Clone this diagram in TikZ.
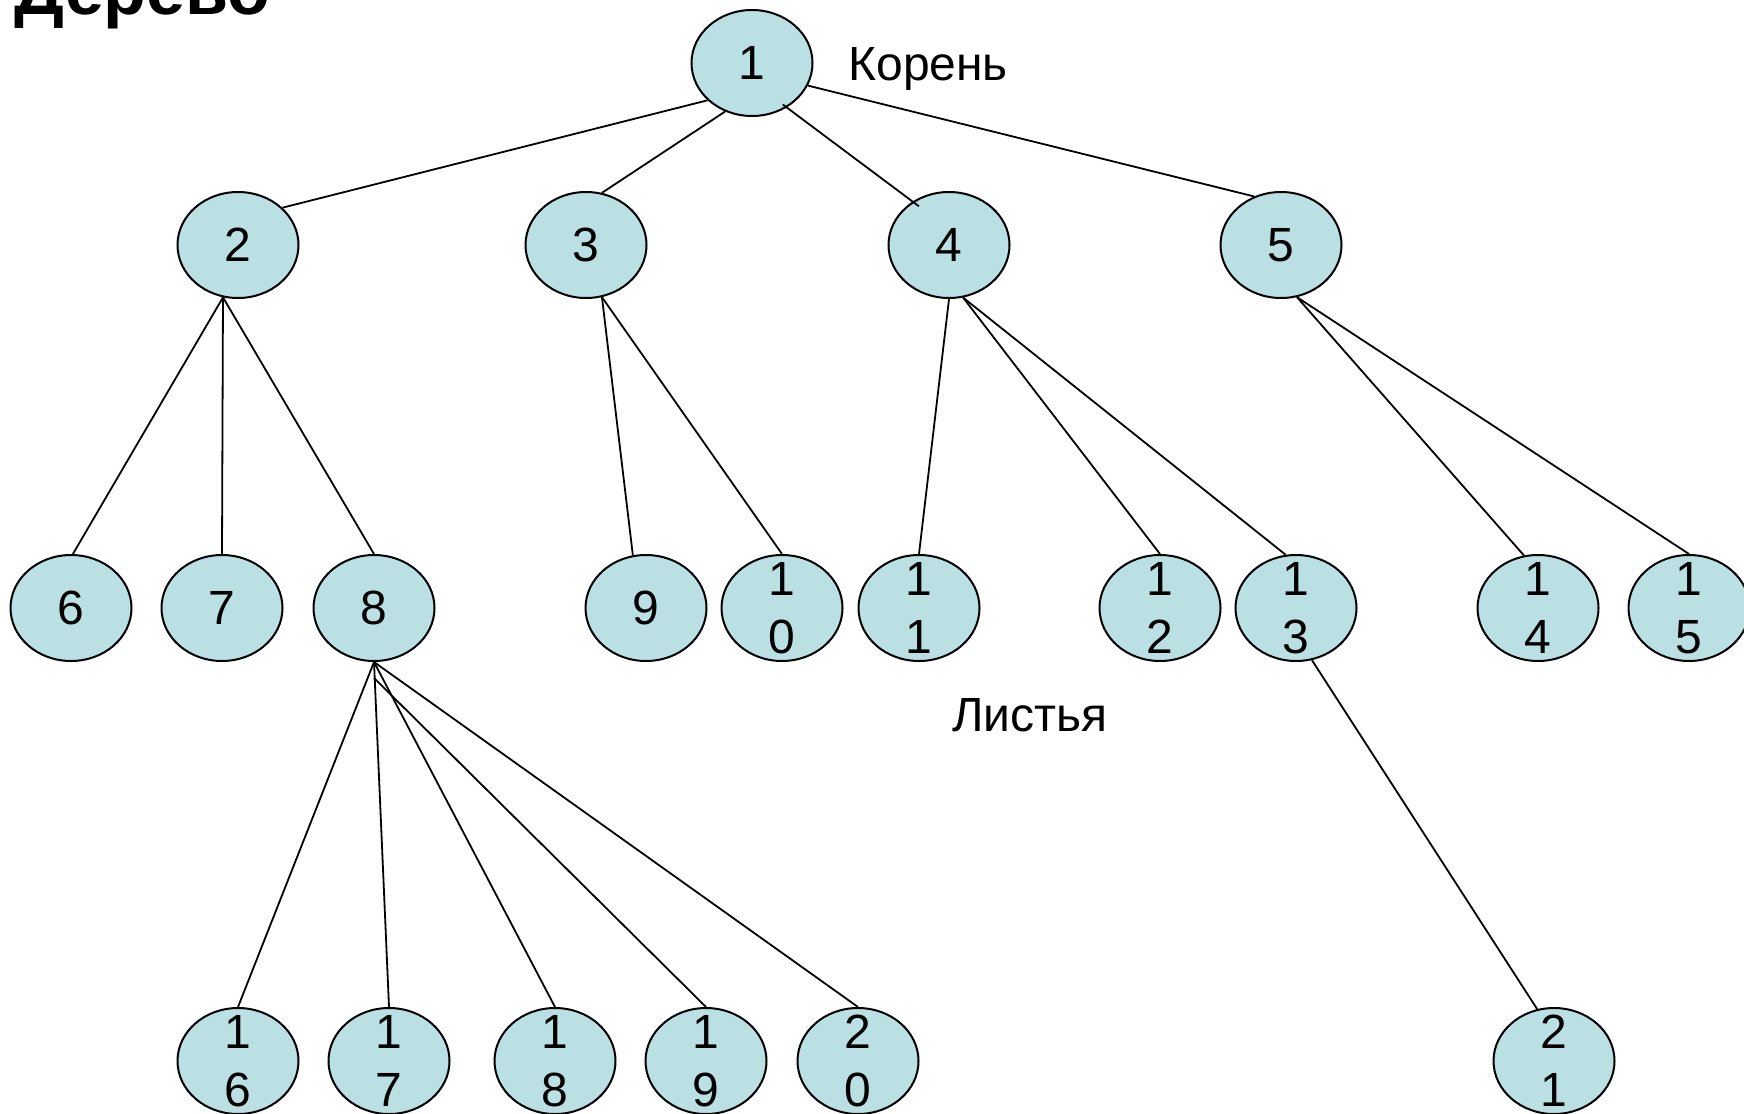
\documentclass[tikz,border=0pt]{standalone}
\usepackage{fontspec}
\setmainfont{Liberation Sans}
\usetikzlibrary{shapes.geometric}
\definecolor{nodefill}{RGB}{187,224,227}
\tikzset{
  vert/.style={ellipse, draw=black, line width=1pt, fill=nodefill,
    minimum width=60.5pt, minimum height=53pt, inner sep=0pt,
    font=\fontsize{24}{29}\selectfont},
  num/.style={inner sep=0pt, align=center, font=\fontsize{24}{29}\selectfont},
  lbl/.style={inner sep=0pt, font=\fontsize{24}{29}\selectfont},
  edge/.style={draw=black, line width=0.9pt}
}
\begin{document}
\begin{tikzpicture}[x=0.5pt, y=-0.5pt]
\useasboundingbox (0,0) rectangle (1744,1113);
% title and labels
\node[anchor=base west, inner sep=0pt, font=\bfseries\fontsize{35}{40}\selectfont] (title) at (14,15) {Дерево};
\node[lbl, anchor=base west] (root) at (848,81) {Корень};
\node[lbl, anchor=base west] (leaves) at (952,731) {Листья};
% level 0/1
\node[vert] (n1) at (752,63) {1};
\node[vert] (n2) at (238,245) {2};
\node[vert] (n3) at (586,245) {3};
\node[vert] (n4) at (949,245) {4};
\node[vert] (n5) at (1281,245) {5};
% level 2
\node[vert] (n6) at (71,608) {6};
\node[vert] (n7) at (222,608) {7};
\node[vert] (n8) at (374,608) {8};
\node[vert] (n9) at (646,608) {9};
\node[vert] (n10) at (782,608) {};
\node[vert] (n11) at (919,608) {};
\node[vert] (n12) at (1160,608) {};
\node[vert] (n13) at (1296,608) {};
\node[vert] (n14) at (1538,608) {};
\node[vert] (n15) at (1689,608) {};
\node[num] (t10) at (n10) {1\\0};
\node[num] (t11) at (n11) {1\\1};
\node[num] (t12) at (n12) {1\\2};
\node[num] (t13) at (n13) {1\\3};
\node[num] (t14) at (n14) {1\\4};
\node[num] (t15) at (n15) {1\\5};
% level 3
\node[vert] (n16) at (238,1061) {};
\node[vert] (n17) at (389,1061) {};
\node[vert] (n18) at (555,1061) {};
\node[vert] (n19) at (706,1061) {};
\node[vert] (n20) at (858,1061) {};
\node[vert] (n21) at (1554,1061) {};
\node[num] (t16) at (n16) {1\\6};
\node[num] (t17) at (n17) {1\\7};
\node[num] (t18) at (n18) {1\\8};
\node[num] (t19) at (n19) {1\\9};
\node[num] (t20) at (n20) {2\\0};
\node[num] (t21) at (n21) {2\\1};
\coordinate (j8) at ([yshift=-8pt]n8.south);
% edges
\draw[edge] (n1.220) -- (n2.40);
\draw[edge] (n1.241) -- (n3.73);
\draw[edge, shorten <=-2.5pt, shorten >=-4pt] (n1.308) -- (n4.130);
\draw[edge] (n1.338) -- (n5.119);
\draw[edge] (n2.254) -- (n6.88);
\draw[edge] (n2.254) -- (n7.90);
\draw[edge] (n2.254) -- (n8.90);
\draw[edge] (n3.287) -- (n9.104);
\draw[edge] (n3.287) -- (n10.90);
\draw[edge] (n4.270) -- (n11.90);
\draw[edge] (n4.285) -- (n12.90);
\draw[edge] (n4.285) -- (n13.101);
\draw[edge] (n5.287) -- (n14.105);
\draw[edge] (n5.287) -- (n15.90);
\draw[edge] (n8.270) -- (n16.90);
\draw[edge] (n8.270) -- (n17.90);
\draw[edge] (n8.270) -- (n18.90);
\draw[edge] (j8) -- (n19.90);
\draw[edge] (n8.270) -- (n20.90);
\draw[edge] (n13.287) -- (n21.108);
\end{tikzpicture}
\end{document}
